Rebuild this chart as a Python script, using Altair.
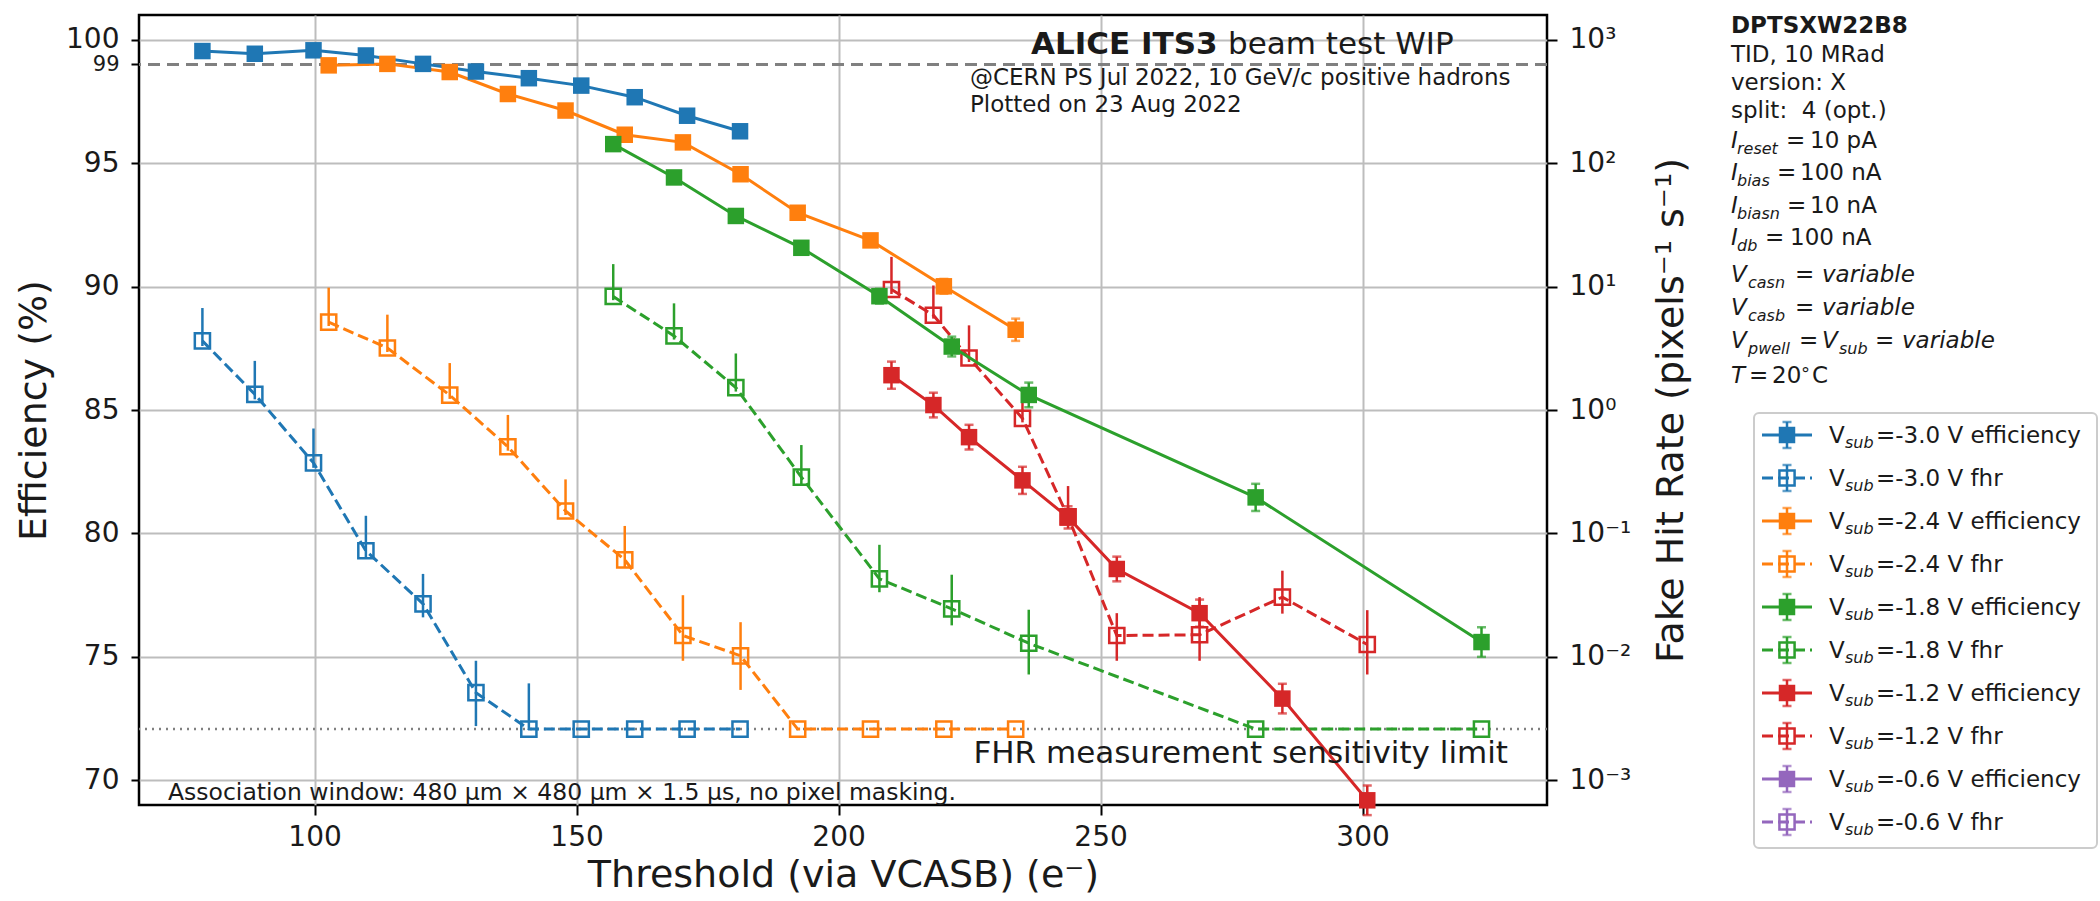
import altair as alt
import pandas as pd

# ---------------------------------------------------------------------------
# Measurements: threshold (e-), efficiency (%) and fake-hit rate per V_sub
# ---------------------------------------------------------------------------
vsub_names = ["-3.0", "-2.4", "-1.8", "-1.2", "-0.6"]
vsub_colors = ["#1f77b4", "#ff7f0e", "#2ca02c", "#d62728", "#9467bd"]

thr_m30 = [78.6, 88.6, 99.8, 109.8, 120.7, 130.8, 140.9, 150.9, 161.1, 171.1, 181.2]
eff_m30 = [99.54, 99.43, 99.57, 99.36, 99.02, 98.71, 98.44, 98.14, 97.67, 96.92, 96.29]
eff_err_m30 = [0.12, 0.12, 0.12, 0.12, 0.12, 0.12, 0.12, 0.12, 0.15, 0.15, 0.2]
fhr_m30 = [3.63, 1.34, 0.373, 0.0724, 0.0269, 0.00513, 0.0026, 0.0026, 0.0026, 0.0026, 0.0026]
fhr_lo_m30 = [3.3, 1.22, 0.34, 0.064, 0.0209, 0.00275, 0.0026, 0.0026, 0.0026, 0.0026, 0.0026]
fhr_hi_m30 = [6.7, 2.5, 0.708, 0.139, 0.047, 0.0093, 0.0061, 0.0026, 0.0026, 0.0026, 0.0026]

thr_m24 = [102.7, 113.9, 125.8, 136.9, 147.9, 159.2, 170.3, 181.3, 192.2, 206.1, 220.1, 233.8]
eff_m24 = [98.96, 99.02, 98.69, 97.80, 97.13, 96.15, 95.84, 94.55, 92.99, 91.87, 90.01, 88.25]
eff_err_m24 = [0.12, 0.12, 0.12, 0.12, 0.12, 0.15, 0.15, 0.15, 0.2, 0.25, 0.3, 0.45]
fhr_m24 = [5.15, 3.18, 1.32, 0.504, 0.152, 0.0611, 0.0149, 0.0102, 0.0026, 0.0026, 0.0026, 0.0026]
fhr_lo_m24 = [4.79, 2.95, 1.23, 0.468, 0.141, 0.0532, 0.0093, 0.0054, 0.0026, 0.0026, 0.0026, 0.0026]
fhr_hi_m24 = [9.8, 5.92, 2.4, 0.912, 0.274, 0.115, 0.0316, 0.0191, 0.0026, 0.0026, 0.0026, 0.0026]

thr_m18 = [157.0, 168.6, 180.4, 192.9, 207.8, 221.6, 236.3, 279.6, 322.7]
eff_m18 = [95.77, 94.42, 92.86, 91.57, 89.61, 87.57, 85.61, 81.46, 75.6]
eff_err_m18 = [0.25, 0.2, 0.25, 0.25, 0.3, 0.4, 0.5, 0.55, 0.6]
fhr_m18 = [8.32, 3.98, 1.52, 0.286, 0.0429, 0.0245, 0.0129, 0.0026, 0.0026]
fhr_lo_m18 = [7.76, 3.72, 1.41, 0.25, 0.0334, 0.018, 0.0072, 0.0026, 0.0026]
fhr_hi_m18 = [15.2, 7.31, 2.87, 0.52, 0.0809, 0.0463, 0.0241, 0.0026, 0.0026]

thr_m12 = [210.1, 218.1, 224.9, 235.1, 243.8, 253.1, 268.9, 284.7, 300.9]
eff_m12 = [86.41, 85.2, 83.9, 82.15, 80.65, 78.56, 76.77, 73.31, 69.19]
eff_err_m12 = [0.55, 0.5, 0.5, 0.55, 0.45, 0.5, 0.55, 0.6, 0.6]
fhr_m12 = [9.46, 5.86, 2.64, 0.855, 0.136, 0.0149, 0.0151, 0.0305, 0.0126]
fhr_lo_m12 = [8.71, 5.5, 2.45, 0.794, 0.12, 0.0093, 0.0093, 0.0224, 0.0072]
fhr_hi_m12 = [17.4, 10.2, 4.85, 1.49, 0.242, 0.0226, 0.0305, 0.0499, 0.0239]

fhr_limit = 0.0026
eff_ref = 99

x_domain = [66.5, 335.2]
eff_domain = [69, 101]
fhr_domain = [10 ** -3.2, 10 ** 3.2]

# ---------------------------------------------------------------------------
# Long tables
# ---------------------------------------------------------------------------
series = [
    ("-3.0", thr_m30, eff_m30, eff_err_m30, fhr_m30, fhr_lo_m30, fhr_hi_m30),
    ("-2.4", thr_m24, eff_m24, eff_err_m24, fhr_m24, fhr_lo_m24, fhr_hi_m24),
    ("-1.8", thr_m18, eff_m18, eff_err_m18, fhr_m18, fhr_lo_m18, fhr_hi_m18),
    ("-1.2", thr_m12, eff_m12, eff_err_m12, fhr_m12, fhr_lo_m12, fhr_hi_m12),
]
eff_rows, fhr_rows = [], []
for name, thr, eff, err, fhr, lo, hi in series:
    for i in range(len(thr)):
        eff_rows.append({"vsub": name, "thr": thr[i], "eff": eff[i],
                         "lo": eff[i] - err[i], "hi": eff[i] + err[i]})
        fhr_rows.append({"vsub": name, "thr": thr[i], "fhr": fhr[i],
                         "lo": lo[i], "hi": hi[i]})
eff_df = pd.DataFrame(eff_rows)
fhr_df = pd.DataFrame(fhr_rows)

FONT = "DejaVu Sans"
TXT = "#1a1a1a"

xs = alt.Scale(domain=x_domain, nice=False, zero=False)
ys_eff = alt.Scale(domain=eff_domain, nice=False, zero=False)
ys_fhr = alt.Scale(type="log", domain=fhr_domain, nice=False)
col = alt.Color("vsub:N", scale=alt.Scale(domain=vsub_names, range=vsub_colors), legend=None)

x_axis = alt.Axis(
    values=[100, 150, 200, 250, 300], format="d",
    title="Threshold (via VCASB) (e⁻)", titleFontSize=38, titleFont=FONT,
    titleFontWeight="normal", titleColor=TXT, titlePadding=5,
    labelFontSize=28, labelFont=FONT, labelColor=TXT, labelPadding=8,
    tickSize=10, tickWidth=2, tickColor="black",
    grid=True, gridColor="#bdbdbd", gridWidth=2, domain=False)
X = alt.X("thr:Q", scale=xs, axis=x_axis)

# ---------------------------------------------------------------------------
# Reference lines with the y axes attached
# ---------------------------------------------------------------------------
ref99 = alt.Chart(pd.DataFrame({"v": [eff_ref]})).mark_rule(
    color="#808080", strokeWidth=3, strokeDash=[12, 7]
).encode(
    y=alt.Y("v:Q", scale=ys_eff, axis=alt.Axis(
        orient="left", values=[70, 75, 80, 85, 90, 95, 99, 100],
        title="Efficiency (%)", titleFontSize=38, titleFont=FONT, titleFontWeight="normal",
        titleColor=TXT, titlePadding=12,
        labelFontSize=alt.condition("datum.value == 99", alt.value(21), alt.value(28)),
        labelFont=FONT, labelColor=TXT, labelPadding=12, labelOverlap=False,
        labelBaseline="middle",
        tickSize=8, tickWidth=2, tickColor="black",
        grid=True, gridColor="#bdbdbd", gridWidth=2,
        gridOpacity=alt.condition("datum.value == 99", alt.value(0), alt.value(1)),
        domain=False)),
)

lim = alt.Chart(pd.DataFrame({"v": [fhr_limit]})).mark_rule(
    color="#808080", strokeWidth=2.5, strokeDash=[2, 5]
).encode(
    y=alt.Y("v:Q", scale=ys_fhr, axis=alt.Axis(
        orient="right", values=[0.001, 0.01, 0.1, 1, 10, 100, 1000],
        labelExpr="['10⁻³','10⁻²','10⁻¹','10⁰','10¹','10²','10³'][round(log(datum.value)/LN10)+3]",
        title="Fake Hit Rate (pixels⁻¹ s⁻¹)", titleFontSize=38, titleFont=FONT,
        titleFontWeight="normal", titleColor=TXT, titleAngle=270, titleBaseline="top",
        titlePadding=22,
        labelFontSize=28, labelFont=FONT, labelColor=TXT, labelPadding=12,
        labelOverlap=False,
        tickSize=10, tickWidth=2, tickColor="black", grid=False, domain=False)),
)

# ---------------------------------------------------------------------------
# Efficiency series (solid lines, filled squares)
# ---------------------------------------------------------------------------
eff_base = alt.Chart(eff_df)
Ye = alt.Y("eff:Q", scale=ys_eff, axis=None)
eff_line = eff_base.mark_line(strokeWidth=3).encode(x=X, y=Ye, color=col, detail="vsub:N")
eff_bar = eff_base.mark_rule(strokeWidth=2.5).encode(
    x=X, y=alt.Y("lo:Q", scale=ys_eff, axis=None), y2="hi:Q", color=col)
eff_cap_lo = eff_base.mark_tick(orient="horizontal", size=9, thickness=2.5).encode(
    x=X, y=alt.Y("lo:Q", scale=ys_eff, axis=None), color=col)
eff_cap_hi = eff_base.mark_tick(orient="horizontal", size=9, thickness=2.5).encode(
    x=X, y=alt.Y("hi:Q", scale=ys_eff, axis=None), color=col)
eff_pts = eff_base.mark_point(shape="square", filled=True, size=272, opacity=1).encode(
    x=X, y=Ye, color=col)

# ---------------------------------------------------------------------------
# Fake-hit-rate series (dashed lines, open squares)
# ---------------------------------------------------------------------------
fhr_base = alt.Chart(fhr_df)
Yf = alt.Y("fhr:Q", scale=ys_fhr, axis=None)
fhr_line = fhr_base.mark_line(strokeWidth=3, strokeDash=[11, 5]).encode(
    x=X, y=Yf, color=col, detail="vsub:N")
fhr_bar = fhr_base.mark_rule(strokeWidth=2.5).encode(
    x=X, y=alt.Y("lo:Q", scale=ys_fhr, axis=None), y2="hi:Q", color=col)
fhr_pts = fhr_base.mark_point(shape="square", filled=False, size=230, strokeWidth=2.5,
                              opacity=1).encode(x=X, y=Yf, color=col)

# ---------------------------------------------------------------------------
# Annotation text (pixel positions relative to the plot area)
# ---------------------------------------------------------------------------
OX, OY = 139, 15  # plot-area origin on the page

frag_regular = [
    # text, x, y, size
    ("beam test WIP", 1228, 54, 31),
    ("@CERN PS Jul 2022, 10 GeV/c positive hadrons", 970, 85, 23),
    ("Plotted on 23 Aug 2022", 970, 112, 23),
    ("Association window: 480 μm × 480 μm × 1.5 μs, no pixel masking.", 168, 800, 23.5),
    ("TID, 10 MRad", 1731, 62, 23),
    ("version: X", 1731, 90, 23),
    ("split:\u00a0 4 (opt.)", 1731, 118, 23),
    ("=", 1786, 148, 23), ("10 pA", 1810, 148, 23),
    ("=", 1777, 180, 23), ("100 nA", 1800, 180, 23),
    ("=", 1787, 213, 23), ("10 nA", 1810, 213, 23),
    ("=", 1765, 245, 23), ("100 nA", 1790, 245, 23),
    ("=", 1795, 282, 23),
    ("=", 1795, 315, 23),
    ("=", 1799, 348, 23), ("=", 1875, 348, 23),
    ("=", 1749, 383, 23), ("20", 1772, 383, 23), ("°", 1801, 380, 18), ("C", 1812, 383, 23),
]
frag_bold = [
    ("ALICE ITS3", 1031, 54, 31),
    ("DPTSXW22B8", 1731, 33, 23),
]
frag_italic = [
    ("I", 1731, 148, 23), ("reset", 1737, 154, 16),
    ("I", 1731, 180, 23), ("bias", 1737, 186, 16),
    ("I", 1731, 213, 23), ("biasn", 1737, 219, 16),
    ("I", 1731, 245, 23), ("db", 1737, 251, 16),
    ("V", 1731, 282, 23), ("casn", 1748, 288, 16), ("variable", 1822, 282, 23),
    ("V", 1731, 315, 23), ("casb", 1748, 321, 16), ("variable", 1822, 315, 23),
    ("V", 1731, 348, 23), ("pwell", 1748, 354, 16), ("V", 1822, 348, 23),
    ("sub", 1839, 354, 16), ("variable", 1902, 348, 23),
    ("T", 1731, 383, 23),
]
frag_right = [
    ("FHR measurement sensitivity limit", 1508, 763, 31),
]

# Legend entries
legend_labels = []
for v in vsub_names:
    legend_labels.append((v, "efficiency"))
    legend_labels.append((v, "fhr"))
LEG_Y0, LEG_DY = 435, 43
for i, (v, kind) in enumerate(legend_labels):
    yb = LEG_Y0 + LEG_DY * i + 8
    frag_regular.append(("V", 1829, yb, 23))
    frag_regular.append(("=" + v + " V " + kind, 1876, yb, 23))
    frag_italic.append(("sub", 1845, yb + 5, 16))


def frag_df(frags):
    return pd.DataFrame({
        "t": [f[0] for f in frags],
        "px": [f[1] - OX for f in frags],
        "py": [f[2] - OY for f in frags],
        "fs": [f[3] for f in frags],
    })


def text_layer(frags, align="left", **kw):
    return alt.Chart(frag_df(frags)).mark_text(
        align=align, baseline="alphabetic", font=FONT, color=TXT, **kw
    ).encode(
        x=alt.X("px:Q", scale=None, axis=None),
        y=alt.Y("py:Q", scale=None, axis=None),
        size=alt.Size("fs:Q", scale=None, legend=None),
        text="t:N",
    )


txt_reg = text_layer(frag_regular)
txt_bold = text_layer(frag_bold, fontWeight="bold")
txt_it = text_layer(frag_italic, fontStyle="italic")
txt_right = text_layer(frag_right, align="right")

# Legend frame and symbols
leg_rows = []
for i, (v, kind) in enumerate(legend_labels):
    yc = LEG_Y0 + LEG_DY * i - OY
    leg_rows.append({"kind": kind, "col": vsub_colors[vsub_names.index(v)],
                     "x1": 1762 - OX, "x2": 1812 - OX, "xm": 1787 - OX,
                     "yc": yc, "ylo": yc + 13, "yhi": yc - 13})
leg_df = pd.DataFrame(leg_rows)
leg_frame = alt.Chart(pd.DataFrame({"a": [0]})).mark_rect(
    fill="white", fillOpacity=0.85, stroke="#cccccc", strokeWidth=2, cornerRadius=5
).encode(x=alt.value(1754 - OX), x2=alt.value(2097 - OX),
         y=alt.value(413 - OY), y2=alt.value(848 - OY))

LX1 = alt.X("x1:Q", scale=None, axis=None)
LXM = alt.X("xm:Q", scale=None, axis=None)
LY = alt.Y("yc:Q", scale=None, axis=None)
LC = alt.Color("col:N", scale=None, legend=None)
leg_eff = leg_df[leg_df.kind == "efficiency"]
leg_fhr = leg_df[leg_df.kind == "fhr"]
leg_line_e = alt.Chart(leg_eff).mark_rule(strokeWidth=3).encode(x=LX1, x2="x2:Q", y=LY, color=LC)
leg_line_f = alt.Chart(leg_fhr).mark_rule(strokeWidth=3, strokeDash=[11, 5]).encode(
    x=LX1, x2="x2:Q", y=LY, color=LC)
leg_bar = alt.Chart(leg_df).mark_rule(strokeWidth=2.5).encode(
    x=LXM, y=alt.Y("ylo:Q", scale=None, axis=None), y2="yhi:Q", color=LC)
leg_cap1 = alt.Chart(leg_df).mark_tick(orient="horizontal", size=9, thickness=2.5).encode(
    x=LXM, y=alt.Y("ylo:Q", scale=None, axis=None), color=LC)
leg_cap2 = alt.Chart(leg_df).mark_tick(orient="horizontal", size=9, thickness=2.5).encode(
    x=LXM, y=alt.Y("yhi:Q", scale=None, axis=None), color=LC)
leg_pt_e = alt.Chart(leg_eff).mark_point(shape="square", filled=True, size=272, opacity=1).encode(
    x=LXM, y=LY, color=LC)
leg_pt_f = alt.Chart(leg_fhr).mark_point(shape="square", filled=False, size=230, strokeWidth=2.5,
                                         opacity=1).encode(x=LXM, y=LY, color=LC)

chart = alt.layer(
    ref99, lim,
    fhr_line, fhr_bar, fhr_pts,
    eff_line, eff_bar, eff_cap_lo, eff_cap_hi, eff_pts,
    leg_frame, leg_line_e, leg_line_f, leg_bar, leg_cap1, leg_cap2, leg_pt_e, leg_pt_f,
    txt_reg, txt_bold, txt_it, txt_right,
).resolve_scale(
    y="independent"
).properties(
    width=1408, height=790,
    padding={"left": OX, "top": OY, "right": 2100 - OX - 1408, "bottom": 901 - OY - 790},
    autosize=alt.AutoSizeParams(type="none"),
    background="white",
).configure_view(
    stroke="black", strokeWidth=2.5
)

chart.save("out.html", embed_options={"renderer": "svg", "actions": False})
